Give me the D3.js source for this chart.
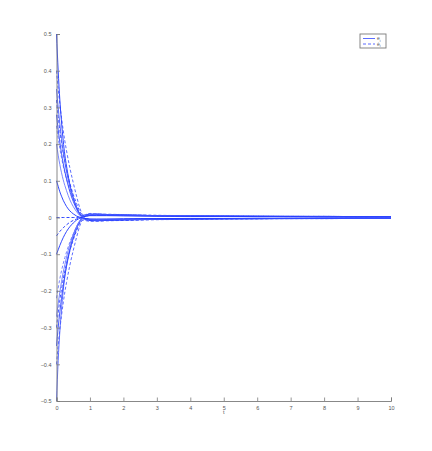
<!DOCTYPE html>
<html>
<head>
<meta charset="utf-8">
<script src="https://cdn.jsdelivr.net/npm/d3@7"></script>
<style>
  html, body { margin: 0; padding: 0; background: #fff; }
  svg { display: block; font-family: "Liberation Sans", Helvetica, Arial, sans-serif; }
</style>
</head>
<body>
<svg id="chart" width="432" height="451"></svg>
<script>
// Sample times (s)
const tValues = [0, 0.05, 0.1, 0.15, 0.2, 0.25, 0.3, 0.4, 0.5, 0.6, 0.7, 0.8, 0.9, 1.0, 1.2, 1.5, 2, 2.5, 3, 4, 5, 6, 7, 8, 9, 10];

// Solid curves (e_i)
const e1 = [0.5, 0.40, 0.32, 0.26, 0.21, 0.17, 0.14, 0.09, 0.055, 0.028, 0.01, 0.0, -0.005, -0.008, -0.009, -0.008, -0.007, -0.006, -0.005, -0.004, -0.0035, -0.003, -0.003, -0.0025, -0.0025, -0.002];
const e2 = [0.35, 0.3, 0.255, 0.215, 0.18, 0.15, 0.125, 0.083, 0.052, 0.027, 0.009, -0.001, -0.004, -0.006, -0.008, -0.007, -0.006, -0.005, -0.0045, -0.004, -0.003, -0.003, -0.0025, -0.0025, -0.002, -0.002];
const e3 = [0.28, 0.24, 0.205, 0.175, 0.148, 0.125, 0.105, 0.07, 0.044, 0.023, 0.007, -0.001, -0.004, -0.006, -0.007, -0.006, -0.005, -0.0045, -0.004, -0.0035, -0.003, -0.003, -0.0025, -0.002, -0.002, -0.002];
const e4 = [0.2, 0.17, 0.144, 0.122, 0.103, 0.087, 0.073, 0.048, 0.03, 0.016, 0.005, -0.001, -0.004, -0.005, -0.006, -0.005, -0.0045, -0.004, -0.0035, -0.003, -0.003, -0.0025, -0.0025, -0.002, -0.002, -0.002];
const e5 = [0.1, 0.085, 0.07, 0.058, 0.047, 0.038, 0.03, 0.018, 0.01, 0.004, 0.0, -0.002, -0.003, -0.004, -0.004, -0.004, -0.0035, -0.003, -0.003, -0.0025, -0.0025, -0.002, -0.002, -0.002, -0.0015, -0.0015];
const e6 = [-0.5, -0.39, -0.31, -0.25, -0.2, -0.16, -0.13, -0.085, -0.05, -0.025, -0.008, 0.002, 0.006, 0.008, 0.009, 0.008, 0.007, 0.006, 0.005, 0.0045, 0.004, 0.0035, 0.003, 0.003, 0.0025, 0.0025];
const e7 = [-0.35, -0.3, -0.257, -0.22, -0.187, -0.158, -0.133, -0.09, -0.057, -0.031, -0.011, 0.0, 0.004, 0.006, 0.007, 0.007, 0.006, 0.005, 0.0045, 0.004, 0.0035, 0.003, 0.003, 0.0025, 0.002, 0.002];
const e8 = [-0.27, -0.235, -0.203, -0.175, -0.15, -0.128, -0.108, -0.073, -0.046, -0.025, -0.009, 0.0, 0.004, 0.006, 0.006, 0.006, 0.005, 0.0045, 0.004, 0.0035, 0.003, 0.003, 0.0025, 0.0025, 0.002, 0.002];
const e9 = [-0.1, -0.088, -0.076, -0.065, -0.055, -0.046, -0.038, -0.025, -0.015, -0.007, -0.002, 0.002, 0.004, 0.005, 0.005, 0.005, 0.0045, 0.004, 0.0035, 0.003, 0.003, 0.0025, 0.0025, 0.002, 0.002, 0.002];

// Dashed curves
const d1 = [0.4, 0.35, 0.31, 0.272, 0.238, 0.208, 0.182, 0.135, 0.095, 0.058, 0.025, 0.006, 0.006, 0.008, 0.009, 0.008, 0.007, 0.006, 0.005, 0.004, 0.0035, 0.003, 0.003, 0.0025, 0.0025, 0.002];
const d2 = [0.32, 0.275, 0.237, 0.204, 0.176, 0.152, 0.13, 0.093, 0.063, 0.038, 0.016, 0.006, 0.009, 0.011, 0.01, 0.009, 0.008, 0.007, 0.006, 0.005, 0.004, 0.0035, 0.003, 0.003, 0.0025, 0.0025];
const d3v = [0.25, 0.217, 0.188, 0.163, 0.141, 0.122, 0.105, 0.075, 0.05, 0.029, 0.012, 0.005, 0.008, 0.009, 0.009, 0.008, 0.007, 0.006, 0.005, 0.0045, 0.004, 0.0035, 0.003, 0.003, 0.0025, 0.0025];
const d4 = [0, 0, 0, 0, 0, 0, 0, 0, 0, 0, 0.002, 0.006, 0.008, 0.009, 0.009, 0.008, 0.007, 0.006, 0.005, 0.0045, 0.004, 0.0035, 0.003, 0.003, 0.0025, 0.0025];
const d5 = [-0.4, -0.348, -0.305, -0.267, -0.233, -0.203, -0.177, -0.13, -0.09, -0.054, -0.022, -0.005, -0.007, -0.009, -0.009, -0.008, -0.007, -0.006, -0.005, -0.0045, -0.004, -0.0035, -0.003, -0.003, -0.0025, -0.0025];
const d6 = [-0.3, -0.26, -0.225, -0.195, -0.168, -0.145, -0.125, -0.09, -0.061, -0.036, -0.015, -0.007, -0.009, -0.01, -0.01, -0.009, -0.008, -0.007, -0.006, -0.005, -0.004, -0.0035, -0.003, -0.003, -0.0025, -0.0025];
const d7 = [-0.22, -0.192, -0.167, -0.145, -0.126, -0.109, -0.094, -0.067, -0.045, -0.026, -0.011, -0.005, -0.007, -0.008, -0.008, -0.007, -0.006, -0.0055, -0.005, -0.0045, -0.004, -0.0035, -0.003, -0.003, -0.0025, -0.0025];
const d8 = [-0.05, -0.044, -0.038, -0.033, -0.028, -0.024, -0.02, -0.013, -0.008, -0.004, -0.001, -0.003, -0.005, -0.006, -0.006, -0.006, -0.005, -0.0045, -0.004, -0.0035, -0.003, -0.003, -0.0025, -0.0025, -0.002, -0.002];

const solidSeries = [e1, e2, e3, e4, e5, e6, e7, e8, e9];
const dashedSeries = [d1, d2, d3v, d4, d5, d6, d7, d8];

// Ticks and legend
const xTicks = [0, 1, 2, 3, 4, 5, 6, 7, 8, 9, 10];
const yTicks = [-0.5, -0.4, -0.3, -0.2, -0.1, 0, 0.1, 0.2, 0.3, 0.4, 0.5];
const legendLabels = [["e", "i"], ["\u0117", "i"]];

const svg = d3.select("#chart");

const x = d3.scaleLinear().domain([0, 10]).range([56.5, 391]);
const y = d3.scaleLinear().domain([-0.5, 0.5]).range([401, 34]);

const line = d3.line()
  .x((d, i) => x(tValues[i]))
  .y(d => y(d))
  .curve(d3.curveMonotoneX);

const blues = ["#1a33ff", "#4a5cff", "#2f45ff", "#6a78ff"];

// Curves
const curves = svg.append("g").attr("fill", "none");

curves.selectAll(".dash")
  .data(dashedSeries)
  .enter()
  .append("path")
  .attr("d", line)
  .attr("stroke", (d, i) => blues[(i + 1) % blues.length])
  .attr("stroke-width", 0.9)
  .attr("stroke-dasharray", "3,2");

curves.selectAll(".solid")
  .data(solidSeries)
  .enter()
  .append("path")
  .attr("d", line)
  .attr("stroke", (d, i) => blues[i % blues.length])
  .attr("stroke-width", 0.9);

// Axes (MATLAB style: ticks pointing inwards, no box)
const axisColor = "#7a7a7a";

const xAxis = svg.append("g")
  .attr("transform", `translate(0,${y(-0.5)})`)
  .call(d3.axisBottom(x).tickValues(xTicks).tickSize(-3.5).tickPadding(5).tickFormat(d3.format("d")));

const yAxis = svg.append("g")
  .attr("transform", `translate(${x(0)},0)`)
  .call(d3.axisLeft(y).tickValues(yTicks).tickSize(-3.5).tickPadding(5)
    .tickFormat(d => d === 0 ? "0" : d3.format(".1f")(d).replace("-", "\u2212")));

[xAxis, yAxis].forEach(a => {
  a.select(".domain").attr("stroke", axisColor).attr("stroke-width", 0.9);
  a.selectAll(".tick line").attr("stroke", axisColor).attr("stroke-width", 0.8);
  a.selectAll(".tick text").attr("fill", "#555").style("font-size", "5.5px");
});

// x-axis label
svg.append("text")
  .attr("x", x(5))
  .attr("y", 414)
  .attr("text-anchor", "middle")
  .attr("fill", "#555")
  .style("font-size", "5.5px")
  .text("t");

// Legend
const legend = svg.append("g").attr("transform", "translate(360,34)");

legend.append("rect")
  .attr("width", 26)
  .attr("height", 14)
  .attr("fill", "#fff")
  .attr("stroke", axisColor)
  .attr("stroke-width", 0.9);

legendLabels.forEach((lab, i) => {
  const ly = 4.5 + i * 5.5;
  legend.append("line")
    .attr("x1", 3).attr("x2", 15)
    .attr("y1", ly).attr("y2", ly)
    .attr("stroke", blues[1])
    .attr("stroke-width", 0.9)
    .attr("stroke-dasharray", i === 1 ? "3,2" : null);
  const txt = legend.append("text")
    .attr("x", 17)
    .attr("y", ly + 1.8)
    .attr("fill", "#555")
    .style("font-size", "5px");
  txt.append("tspan").text(lab[0]);
  txt.append("tspan").attr("dy", 1.2).style("font-size", "3.5px").text(lab[1]);
});
</script>
</body>
</html>
